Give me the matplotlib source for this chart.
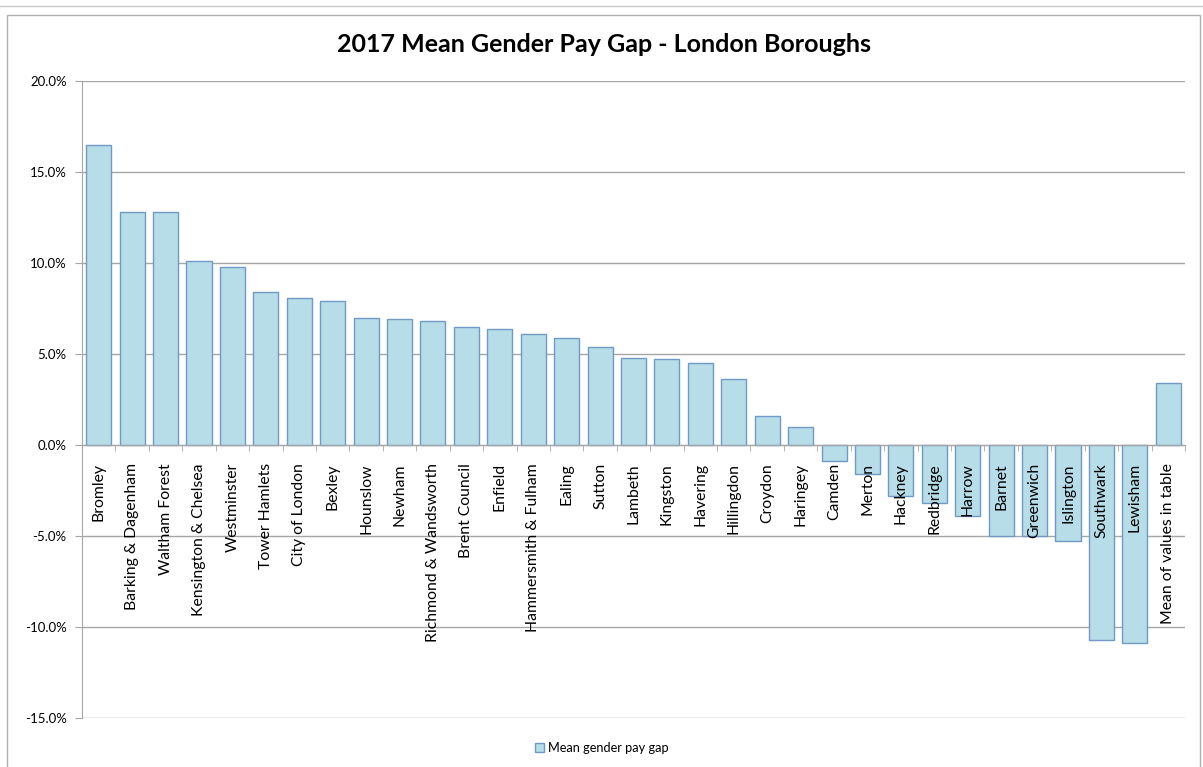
import matplotlib.pyplot as plt
import numpy as np
from matplotlib.patches import Rectangle
from matplotlib.lines import Line2D
from matplotlib.ticker import FuncFormatter

plt.rcParams['font.family'] = ['Lato', 'DejaVu Sans']

boroughs = ["Bromley", "Barking & Dagenham", "Waltham Forest", "Kensington & Chelsea",
            "Westminster", "Tower Hamlets", "City of London", "Bexley", "Hounslow",
            "Newham", "Richmond & Wandsworth", "Brent Council", "Enfield",
            "Hammersmith & Fulham", "Ealing", "Sutton", "Lambeth", "Kingston",
            "Havering", "Hillingdon", "Croydon", "Haringey", "Camden", "Merton",
            "Hackney", "Redbridge", "Harrow", "Barnet", "Greenwich", "Islington",
            "Southwark", "Lewisham", "Mean of values in table"]
pay_gap = [16.5, 12.8, 12.8, 10.1, 9.8, 8.4, 8.1, 7.9, 7.0, 6.9, 6.8, 6.5, 6.4,
           6.1, 5.9, 5.4, 4.8, 4.7, 4.5, 3.6, 1.6, 1.0, -0.9, -1.6, -2.8, -3.2,
           -3.9, -5.0, -5.0, -5.3, -10.7, -10.9, 3.4]
y_ticks = [20, 15, 10, 5, 0, -5, -10, -15]

fig = plt.figure(figsize=(12.03, 7.67), dpi=100)
ax = fig.add_axes([82/1203, 1 - 718/767, 1103/1203, 637/767])

# outer chart frame
fig.add_artist(Line2D([0, 1], [1 - 6/767, 1 - 6/767], color="#c8c8c8", lw=1))
fig.add_artist(Rectangle((7/1203, -0.05), 1193/1203, 1.05 - 15/767, fill=False,
                         edgecolor="#b0b0b0", lw=1))

x = np.arange(len(boroughs))
ax.bar(x, pay_gap, width=0.75, color="#b7dde8", edgecolor="#6f9ac4", lw=1,
       label="Mean gender pay gap", zorder=3)

ax.set_xlim(-0.5, len(boroughs) - 0.5)
ax.set_ylim(-15, 20)
ax.set_yticks(y_ticks)
ax.yaxis.set_major_formatter(FuncFormatter(lambda v, p: f"{v:.1f}%"))
ax.grid(axis="y", color="#a6a6a6", lw=1)
ax.yaxis.set_zorder(0)
ax.xaxis.set_zorder(5)

for s in ["top", "right"]:
    ax.spines[s].set_visible(False)
ax.spines["left"].set_color("#a6a6a6")
ax.spines["bottom"].set_position(("data", 0))
ax.spines["bottom"].set_color("#a6a6a6")
ax.spines["bottom"].set_zorder(4)

ax.set_xticks(x)
ax.set_xticklabels(boroughs, rotation=90, fontsize=11.3, va="top")
ax.set_xticks(np.arange(len(boroughs) + 1) - 0.5, minor=True)
ax.tick_params(axis="x", which="major", length=0, pad=13)
ax.tick_params(axis="x", which="minor", length=4, color="#a6a6a6")
ax.tick_params(axis="y", length=5, color="#a6a6a6", labelsize=9.5, pad=6)

fig.text(0.502, 1 - 45/767, "2017 Mean Gender Pay Gap - London Boroughs",
         ha="center", va="center", fontsize=18, fontweight="bold")

fig.legend(loc="center", bbox_to_anchor=(0.5, 1 - 748/767), frameon=False,
           fontsize=9.2, handlelength=0.7, handleheight=0.7, handletextpad=0.3)

fig.savefig("out.png", dpi=100)
